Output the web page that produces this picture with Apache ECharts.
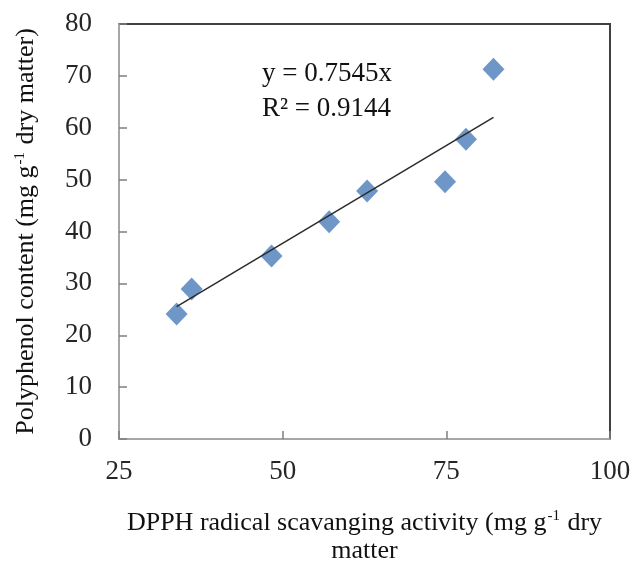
<!DOCTYPE html>
<html>
<head>
<meta charset="utf-8">
<script src="https://cdn.jsdelivr.net/npm/echarts@6/dist/echarts.min.js"></script>
<style>
  html, body { margin: 0; padding: 0; background: #fff; }
  #main { width: 632px; height: 563px; }
</style>
</head>
<body>
<div id="main"></div>
<script>
// values
const dpph = [33.8, 36.1, 48.3, 57.1, 62.9, 74.8, 78.0, 82.2];
const polyphenol = [24.1, 28.9, 35.3, 41.9, 47.8, 49.6, 57.8, 71.3];
const slope = 0.7545;
const r2 = 0.9144;
const xTicks = [25, 50, 75, 100];

const points = dpph.map((x, i) => [x, polyphenol[i]]);
const xMin = Math.min(...dpph), xMax = Math.max(...dpph);
const trend = [[xMin, slope * xMin], [xMax, slope * xMax]];

const serif = '"Liberation Serif", "DejaVu Serif", serif';
const txt = { fontFamily: serif, fontSize: 26, color: '#111' };
const sup = { fontFamily: serif, fontSize: 15, color: '#111', verticalAlign: 'top', padding: [0, 1, 12, 1] };

const myChart = echarts.init(document.getElementById('main'));
const option = {
    animation: false,
    backgroundColor: '#fff',
    grid: {
        left: 119, right: 22, top: 24, bottom: 124,
        containLabel: false,
        outerBoundsMode: 'none',
        show: true,
        borderColor: '#404040',
        borderWidth: 2
    },
    xAxis: {
        type: 'value',
        min: 25, max: 100, interval: 25,
        splitLine: { show: false },
        axisLine: { lineStyle: { color: '#a6a6a6', width: 2 } },
        axisTick: { inside: true, length: 8, lineStyle: { color: '#7f7f7f', width: 1.5 } },
        axisLabel: { fontFamily: serif, fontSize: 27, color: '#262626', margin: 19,
            formatter: v => xTicks.includes(v) ? String(v) : '' },
        name: '{t|DPPH radical scavanging activity (mg g}{s|-1}{t| dry}\n{t|matter}',
        nameLocation: 'middle',
        nameGap: 70,
        nameTextStyle: { align: 'center', lineHeight: 28, rich: { t: txt, s: sup } }
    },
    yAxis: {
        type: 'value',
        min: 0, max: 80, interval: 10,
        splitLine: { show: false },
        axisLine: { lineStyle: { color: '#a6a6a6', width: 2 } },
        axisTick: { inside: true, length: 8, lineStyle: { color: '#7f7f7f', width: 1.5 } },
        axisLabel: { fontFamily: serif, fontSize: 27, color: '#262626', margin: 27 },
        name: '{t|Polyphenol content (mg g}{s|-1}{t| dry matter)}',
        nameLocation: 'middle',
        nameGap: 79,
        nameTextStyle: { rich: { t: txt, s: sup } }
    },
    graphic: [
        {
            type: 'text', left: 262, top: 60,
            style: { text: 'y = ' + slope + 'x', font: '27px ' + serif, fill: '#111' }
        },
        {
            type: 'text', left: 262, top: 95,
            style: { text: 'R² = ' + r2, font: '27px ' + serif, fill: '#111' }
        }
    ],
    series: [
        {
            type: 'line',
            data: trend,
            symbol: 'none',
            lineStyle: { color: '#2b2b2b', width: 1.5 },
            z: 3
        },
        {
            type: 'scatter',
            data: points,
            symbol: 'diamond',
            symbolSize: [22, 23],
            itemStyle: { color: '#4a7dba' },
            z: 2
        }
    ]
};
myChart.setOption(option);
</script>
</body>
</html>
